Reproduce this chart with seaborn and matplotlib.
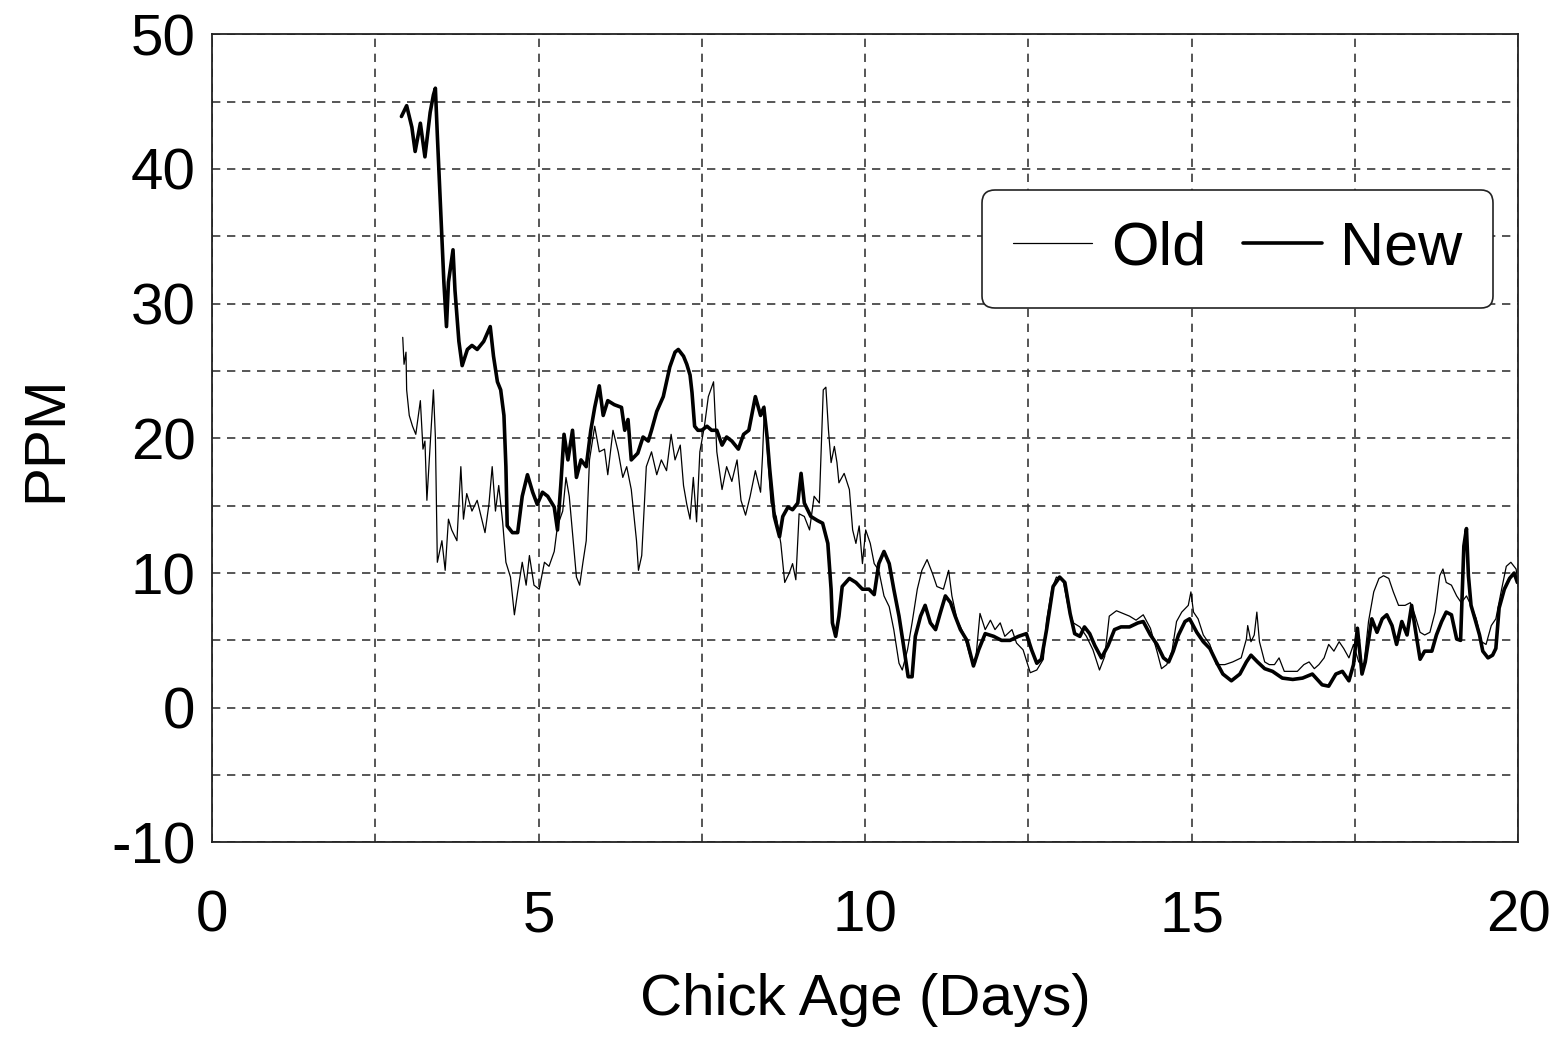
import numpy as np
import pandas as pd
import seaborn as sns
from matplotlib import pyplot as plt

# readings (days, ppm)
new_days = [2.90, 2.98, 3.06, 3.11, 3.19, 3.26, 3.34, 3.39, 3.42, 3.45, 3.50, 3.55, 3.59, 3.62, 3.69,
            3.72, 3.78, 3.83, 3.91, 3.98, 4.06, 4.16, 4.26, 4.31, 4.37, 4.42, 4.47, 4.50, 4.52, 4.60,
            4.68, 4.75, 4.83, 4.91, 4.98, 5.06, 5.14, 5.24, 5.29, 5.34, 5.39, 5.45, 5.52, 5.58, 5.65,
            5.73, 5.80, 5.86, 5.93, 5.99, 6.06, 6.16, 6.27, 6.32, 6.37, 6.42, 6.52, 6.60, 6.68, 6.73,
            6.81, 6.91, 7.01, 7.09, 7.14, 7.22, 7.27, 7.32, 7.35, 7.39, 7.44, 7.50, 7.58, 7.65, 7.73,
            7.81, 7.88, 7.96, 8.06, 8.14, 8.22, 8.32, 8.40, 8.45, 8.50,
            8.54, 8.61, 8.69, 8.74, 8.82, 8.89, 8.97, 9.02, 9.07, 9.17, 9.27, 9.35, 9.43, 9.48, 9.50,
            9.55, 9.60, 9.65, 9.76, 9.86, 9.96, 10.06, 10.14, 10.21, 10.29, 10.37, 10.44, 10.52, 10.59,
            10.66, 10.72, 10.77, 10.85, 10.92, 11.00, 11.08, 11.15, 11.23, 11.31, 11.38, 11.46, 11.56,
            11.66, 11.74, 11.84, 11.97, 12.09, 12.22, 12.35, 12.47, 12.55, 12.63, 12.70, 12.78, 12.88,
            12.98, 13.06, 13.14, 13.21, 13.29, 13.36, 13.44, 13.52, 13.62, 13.72, 13.82, 13.92, 14.05, 14.18,
            14.26, 14.37, 14.47, 14.57, 14.65, 14.72, 14.80, 14.90, 14.97, 15.08, 15.18, 15.28, 15.38,
            15.48, 15.61, 15.74, 15.84, 15.91, 16.01, 16.12, 16.24, 16.39, 16.55, 16.70, 16.85, 17.00,
            17.10, 17.21, 17.31, 17.41, 17.48, 17.54, 17.61, 17.66, 17.76, 17.84, 17.92, 17.99, 18.07,
            18.14, 18.22, 18.30, 18.37, 18.45, 18.50, 18.57, 18.68, 18.75, 18.83, 18.90, 18.98, 19.06,
            19.12, 19.17, 19.21, 19.24, 19.28, 19.34, 19.41, 19.46, 19.54, 19.61, 19.66, 19.71, 19.79,
            19.87, 19.94, 19.99]
new_ppm = [43.9, 44.7, 43.1, 41.3, 43.4, 40.9, 44.2, 45.5, 46.0, 42.5, 37.1, 31.6, 28.3, 31.6, 34.0,
           31.0, 27.2, 25.4, 26.6, 26.9, 26.6, 27.2, 28.3, 26.1, 24.2, 23.6, 21.7, 17.9, 13.5, 13.0,
           13.0, 15.7, 17.3, 16.0, 15.1, 16.0, 15.7, 14.9, 13.2, 16.5, 20.3, 18.4, 20.6, 17.1, 18.4,
           17.9, 20.6, 22.3, 23.9, 21.7, 22.8, 22.5, 22.3, 20.6, 21.4, 18.4, 18.9, 20.1, 19.8, 20.6,
           22.0, 23.1, 25.3, 26.4, 26.6, 26.1, 25.5, 24.7, 23.4, 20.9, 20.6, 20.6, 20.9, 20.6, 20.6,
           19.5, 20.1, 19.8, 19.2, 20.3, 20.6, 23.1, 21.7, 22.3, 20.1,
           17.7, 14.2, 12.7, 14.2, 14.9, 14.7, 15.2, 17.4, 15.2, 14.2, 13.9, 13.7, 12.2, 8.8, 6.3,
           5.3, 6.8, 9.0, 9.6, 9.3, 8.8, 8.8, 8.4, 10.7, 11.6, 10.7, 8.8, 6.8, 4.6,
           2.3, 2.3, 5.3, 6.8, 7.6, 6.3, 5.8, 7.0, 8.3, 7.8, 6.8, 5.8, 5.0,
           3.1, 4.3, 5.5, 5.3, 5.0, 5.0, 5.3, 5.5, 4.3, 3.3, 3.6, 5.8, 9.0,
           9.7, 9.3, 7.0, 5.5, 5.3, 6.0, 5.5, 4.6, 3.7, 4.6, 5.8, 6.0, 6.0, 6.3,
           6.4, 5.4, 4.7, 3.7, 3.4, 4.2, 5.4, 6.4, 6.6, 5.6, 4.9, 4.4, 3.4,
           2.5, 2.0, 2.5, 3.4, 3.9, 3.4, 2.9, 2.7, 2.2, 2.1, 2.2, 2.5, 1.7,
           1.6, 2.5, 2.7, 2.0, 3.2, 5.9, 2.5, 3.4, 6.6, 5.6, 6.6, 6.9, 6.1,
           4.7, 6.4, 5.4, 7.6, 5.1, 3.6, 4.2, 4.2, 5.4, 6.4, 7.1, 6.9, 5.1,
           5.0, 12.0, 13.3, 9.8, 7.6, 6.6, 5.4, 4.2, 3.7, 3.9, 4.4, 7.4, 8.8,
           9.6, 10.0, 9.3]

old_days = [2.92, 2.94, 2.97, 2.98, 3.02, 3.07, 3.12, 3.19, 3.23, 3.26, 3.29, 3.34, 3.39, 3.42, 3.45,
            3.52, 3.57, 3.62, 3.67, 3.75, 3.81, 3.85, 3.90, 3.98, 4.06, 4.13, 4.18, 4.24, 4.29, 4.34,
            4.39, 4.45, 4.50, 4.57, 4.63, 4.68, 4.75, 4.81, 4.86, 4.93, 5.01, 5.09, 5.16, 5.24, 5.29,
            5.37, 5.42, 5.47, 5.52, 5.58, 5.63, 5.68, 5.73, 5.78, 5.86, 5.93, 6.01, 6.06, 6.14, 6.22,
            6.29, 6.35, 6.42, 6.50, 6.53, 6.58, 6.65, 6.73, 6.81, 6.88, 6.96, 7.03, 7.09, 7.17, 7.22,
            7.27, 7.32, 7.37, 7.42, 7.47, 7.54, 7.60, 7.68, 7.73, 7.81, 7.88, 7.96, 8.04, 8.10, 8.17,
            8.24, 8.32, 8.40, 8.43,
            8.46, 8.51, 8.56, 8.64, 8.71, 8.77, 8.84, 8.89, 8.94, 8.99, 9.07, 9.15, 9.22, 9.30, 9.36,
            9.40, 9.44, 9.48, 9.53, 9.57, 9.60, 9.68, 9.76, 9.81, 9.86, 9.91, 9.96, 10.01, 10.08, 10.14,
            10.21, 10.29, 10.37, 10.44, 10.52, 10.57, 10.65, 10.72, 10.80, 10.87, 10.95, 11.03, 11.10,
            11.20, 11.28, 11.33, 11.41, 11.51, 11.61, 11.69, 11.76, 11.84, 11.92, 11.99, 12.07, 12.14,
            12.25, 12.32, 12.42, 12.53, 12.63, 12.73, 12.78, 12.86, 12.93, 13.03, 13.11, 13.19, 13.29,
            13.39, 13.49, 13.59, 13.67, 13.74, 13.85, 13.95, 14.05, 14.15,
            14.26, 14.37, 14.47, 14.54, 14.62, 14.70, 14.77, 14.85, 14.95, 14.99, 15.03, 15.10, 15.18,
            15.28, 15.38, 15.51, 15.63, 15.76, 15.84, 15.86, 15.91, 15.96, 16.00, 16.04, 16.12, 16.19,
            16.27, 16.34, 16.42, 16.52, 16.62, 16.72, 16.80, 16.88, 16.95, 17.03, 17.10, 17.18, 17.26,
            17.33, 17.41, 17.48, 17.56, 17.64, 17.71, 17.79, 17.87, 17.94, 18.02, 18.09, 18.17, 18.27,
            18.35, 18.42, 18.50, 18.57, 18.65, 18.73, 18.80, 18.85, 18.90, 18.98, 19.06, 19.13, 19.21,
            19.28, 19.36, 19.44, 19.51, 19.59, 19.66, 19.74, 19.82, 19.89, 19.97, 19.99]
old_ppm = [27.5, 25.5, 26.4, 23.6, 21.7, 20.9, 20.3, 22.8, 19.2, 19.8, 15.4, 19.5, 23.6, 20.1, 10.8,
           12.4, 10.2, 14.0, 13.2, 12.4, 17.9, 14.0, 15.9, 14.6, 15.4, 14.0, 13.0, 15.1, 17.9, 14.6,
           16.5, 13.8, 10.8, 9.7, 6.9, 8.6, 10.8, 9.1, 11.3, 9.1, 8.8, 10.8, 10.5, 11.6, 13.5,
           14.6, 17.1, 15.7, 13.0, 9.7, 9.1, 10.8, 12.4, 18.4, 20.9, 19.0, 19.2, 17.3, 20.6, 19.0,
           17.1, 17.9, 16.2, 12.4, 10.2, 11.3, 17.9, 19.0, 17.3, 18.4, 17.6, 20.3, 18.4, 19.5, 16.5,
           15.1, 14.0, 17.1, 13.8, 19.0, 20.9, 23.1, 24.2, 19.0, 16.2, 17.9, 16.8, 18.4, 15.4, 14.3,
           15.7, 17.6, 16.0, 18.7,
           22.4, 18.6, 15.2, 14.2, 12.2, 9.3, 10.0, 10.7, 9.5, 14.4, 14.2, 13.2, 15.7, 15.2, 23.6,
           23.8, 20.6, 18.2, 19.4, 18.2, 16.7, 17.4, 16.2, 13.2, 12.2, 13.5, 10.7, 13.2, 12.2, 10.7,
           10.2, 8.3, 7.5, 5.8, 3.3, 2.8, 4.3, 6.3, 8.8, 10.2, 11.0, 10.0, 9.0,
           8.8, 10.2, 8.3, 6.5, 5.5, 3.8, 3.3, 7.0, 5.8, 6.5, 5.8, 6.3, 5.3,
           5.8, 4.8, 4.3, 2.6, 2.8, 3.6, 6.5, 8.8, 9.7, 9.5, 7.5, 6.3, 6.0,
           5.3, 4.3, 2.8, 3.8, 6.8, 7.2, 7.0, 6.8, 6.5,
           6.9, 5.9, 4.2, 2.9, 3.2, 4.2, 6.4, 7.1, 7.6, 8.6, 7.1, 6.6, 5.4,
           4.7, 3.2, 3.2, 3.4, 3.7, 5.1, 6.1, 4.9, 5.4, 7.1, 4.9, 3.4, 3.2,
           3.2, 3.7, 2.7, 2.7, 2.7, 3.2, 3.4, 2.9, 3.2, 3.7, 4.7, 4.2, 4.9,
           4.4, 3.7, 4.7, 3.4, 3.2, 6.4, 8.6, 9.6, 9.8, 9.6, 8.6, 7.6, 7.6,
           7.8, 6.9, 5.6, 5.4, 5.6, 7.1, 9.8, 10.3, 9.3, 9.1, 8.3, 7.8, 8.3,
           7.6, 6.6, 4.9, 4.7, 6.1, 6.6, 8.6, 10.5, 10.8, 10.3, 9.6]

x_ticks = [0, 5, 10, 15, 20]
y_ticks = [-10, 0, 10, 20, 30, 40, 50]

sns.set_style("white")
plt.rcParams['font.family'] = ['Liberation Sans', 'DejaVu Sans']
plt.rcParams['axes.unicode_minus'] = False
plt.rcParams['text.color'] = 'black'
plt.rcParams['axes.labelcolor'] = 'black'
plt.rcParams['xtick.color'] = 'black'
plt.rcParams['ytick.color'] = 'black'

df_old = pd.DataFrame({'days': old_days, 'ppm': old_ppm})
df_new = pd.DataFrame({'days': new_days, 'ppm': new_ppm})

fig = plt.figure(figsize=(15.65, 10.4), dpi=100)
ax = fig.add_axes([0.1355, 0.19, 0.8345, 0.777])

sns.lineplot(data=df_old, x='days', y='ppm', ax=ax, color='black', linewidth=0.9,
             label='Old', sort=False, estimator=None)
sns.lineplot(data=df_new, x='days', y='ppm', ax=ax, color='black', linewidth=2.6,
             label='New', sort=False, estimator=None)

ax.set_xlim(0, 20)
ax.set_ylim(-10, 50)
ax.set_xticks(x_ticks)
ax.set_yticks(y_ticks)
ax.set_xticks(np.arange(0, 20.1, 2.5), minor=True)
ax.set_yticks(np.arange(-10, 50.1, 5), minor=True)
ax.grid(which='both', color='#3a3a3a', linestyle=(0, (5, 4)), linewidth=1.2)
ax.tick_params(axis='both', which='both', length=0, labelsize=42)
ax.tick_params(axis='x', pad=34)
ax.tick_params(axis='y', pad=12)
for s in ax.spines.values():
    s.set_color('#222222')
    s.set_linewidth(1.3)

ax.set_xlabel('Chick Age (Days)', fontsize=42, labelpad=21)
ax.set_ylabel('PPM', fontsize=42, labelpad=27)

leg = ax.legend(loc='upper right', bbox_to_anchor=(0.981, 0.807), borderaxespad=0, ncol=2,
                fontsize=44, handlelength=1.3, handletextpad=0.3, columnspacing=0.6,
                borderpad=0.5, fancybox=True, framealpha=1, edgecolor='#222222')
leg.get_frame().set_linewidth(1.2)

fig.savefig('out.png', dpi=100)
